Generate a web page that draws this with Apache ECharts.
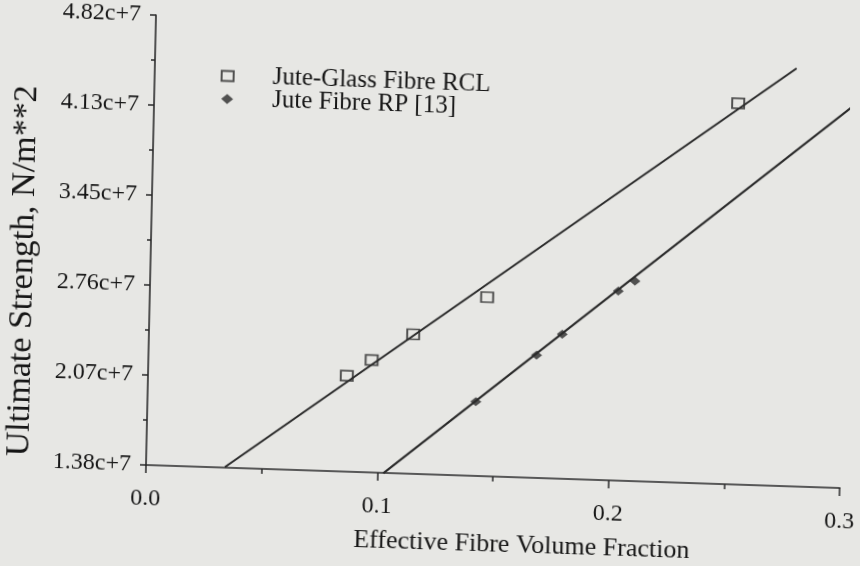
<!DOCTYPE html>
<html><head><meta charset="utf-8">
<script src="https://cdn.jsdelivr.net/npm/echarts@6/dist/echarts.min.js"></script>
<style>
html,body{margin:0;padding:0;width:860px;height:566px;overflow:hidden;background:#e7e7e4;}
#chart{position:absolute;left:0;top:0;width:900px;height:600px;transform-origin:146px 465px;transform:matrix(0.99945,0.03314,-0.02222,0.99975,0,0);}
</style></head><body><div id="chart"></div>
<script>
// Tick labels
const xTickLabels = ['0.0', '0.1', '0.2', '0.3'];
const yTickLabels = ['1.38c+7', '2.07c+7', '2.76c+7', '3.45c+7', '4.13c+7', '4.82c+7'];
// Jute-Glass Fibre RCL (hollow squares)
const rclVf = [0.0859, 0.0965, 0.1142, 0.1458, 0.2524];
const rclStrength = [2.109e7, 2.235e7, 2.442e7, 2.744e7, 4.289e7];
// Jute Fibre RP [13] (filled diamonds)
const rpVf = [0.1419, 0.1677, 0.1786, 0.2024, 0.2095];
const rpStrength = [1.943e7, 2.315e7, 2.480e7, 2.825e7, 2.905e7];
// Fitted lines
const rclFitVf = [0.0341, 0.2773];
const rclFitStrength = [1.38e7, 4.571e7];
const rpFitVf = [0.1026, 0.32];
const rpFitStrength = [1.373e7, 4.56e7];

const seriesNames = ['Jute-Glass Fibre RCL', 'Jute Fibre RP [13]'];

const xInterval = 0.1;
const yInterval = 6.88e6;
const yMin = 2 * yInterval;
const yMax = 7 * yInterval;

const FONT = "'Liberation Serif', 'Times New Roman', serif";
const INK = '#161616';
const LINE = '#2a2a2a';

const zip = (a, b) => a.map((v, i) => [v, b[i]]);

const chart = echarts.init(document.getElementById('chart'), null, {renderer: 'canvas'});
chart.setOption({
  backgroundColor: 'transparent',
  animation: false,
  grid: {left: 146, top: 15, width: 694.2, height: 450, containLabel: false, outerBoundsMode: 'none'},
  legend: {
    orient: 'vertical',
    left: 207, top: 56,
    itemWidth: 12, itemHeight: 10, itemGap: -2,
    data: seriesNames,
    textStyle: {fontFamily: FONT, fontSize: 25, color: INK, lineHeight: 22, padding: [0, 0, 0, 34]}
  },
  xAxis: {
    type: 'value', min: 0, max: 0.3, interval: xInterval,
    name: 'Effective Fibre Volume Fraction', nameLocation: 'middle', nameGap: 55,
    nameTextStyle: {fontFamily: FONT, fontSize: 26, color: INK, padding: [0, 0, 0, 60]},
    axisLine: {onZero: false, lineStyle: {color: LINE, width: 1.6}},
    axisTick: {length: 8, lineStyle: {color: LINE, width: 1.5}},
    minorTick: {show: true, splitNumber: 2, length: 5, lineStyle: {color: LINE, width: 1.5}},
    splitLine: {show: false},
    axisLabel: {margin: 22, fontFamily: FONT, fontSize: 24, color: INK,
      formatter: v => xTickLabels[Math.round(v / xInterval)]}
  },
  yAxis: {
    type: 'value', min: yMin, max: yMax, interval: yInterval,
    name: 'Ultimate Strength, N/m**2', nameLocation: 'middle', nameGap: 110,
    nameTextStyle: {fontFamily: FONT, fontSize: 34, color: INK, padding: [0, 70, 0, 0]},
    axisLine: {onZero: false, lineStyle: {color: LINE, width: 1.6}},
    axisTick: {length: 6, lineStyle: {color: LINE, width: 1.5}},
    minorTick: {show: true, splitNumber: 2, length: 4, lineStyle: {color: LINE, width: 1.5}},
    splitLine: {show: false},
    axisLabel: {margin: 15, fontFamily: FONT, fontSize: 24, color: INK,
      formatter: v => yTickLabels[Math.round((v - yMin) / yInterval)]}
  },
  series: [
    {type: 'line', name: 'RCL fit', data: zip(rclFitVf, rclFitStrength), symbol: 'none', clip: false,
      lineStyle: {color: LINE, width: 2}, z: 2},
    {type: 'line', name: 'RP fit', data: zip(rpFitVf, rpFitStrength), symbol: 'none', clip: false,
      lineStyle: {color: LINE, width: 2}, z: 2},
    {type: 'scatter', name: seriesNames[0], data: zip(rclVf, rclStrength), symbol: 'rect', symbolSize: [12, 10],
      itemStyle: {color: 'rgba(0,0,0,0)', borderColor: LINE, borderWidth: 1.8}, z: 3},
    {type: 'scatter', name: seriesNames[1], data: zip(rpVf, rpStrength), symbol: 'diamond', symbolSize: [11, 9],
      itemStyle: {color: LINE}, z: 3}
  ]
});
</script></body></html>
